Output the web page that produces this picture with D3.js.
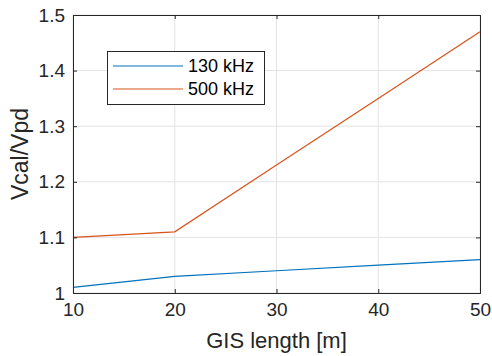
<!DOCTYPE html>
<html>
<head>
<meta charset="utf-8">
<script src="https://cdn.jsdelivr.net/npm/d3@7"></script>
<style>
  body { margin: 0; background: #fff; }
  svg { display: block; font-family: "Liberation Sans", Arial, sans-serif; }
</style>
</head>
<body>
<svg width="492" height="356"></svg>
<script>
const lengths = [10, 20, 30, 40, 50];
const v130 = [1.01, 1.03, 1.04, 1.05, 1.06];
const v500 = [1.10, 1.11, 1.23, 1.35, 1.47];
const seriesNames = ['130 kHz', '500 kHz'];
const seriesColors = ['#0072BD', '#D95319'];
const xTicks = [10, 20, 30, 40, 50];
const yTicks = [1, 1.1, 1.2, 1.3, 1.4, 1.5];

const svg = d3.select('svg');
const m = { left: 73, right: 480, top: 15, bottom: 293 };
const axisColor = '#262626';

const x = d3.scaleLinear().domain([10, 50]).range([m.left, m.right]);
const y = d3.scaleLinear().domain([1, 1.5]).range([m.bottom, m.top]);

// grid
svg.append('g').selectAll('line').data(xTicks).join('line')
  .attr('x1', d => x(d)).attr('x2', d => x(d))
  .attr('y1', m.top).attr('y2', m.bottom)
  .attr('stroke', '#e3e3e3').attr('stroke-width', 1);
svg.append('g').selectAll('line').data(yTicks).join('line')
  .attr('x1', m.left).attr('x2', m.right)
  .attr('y1', d => y(d)).attr('y2', d => y(d))
  .attr('stroke', '#e3e3e3').attr('stroke-width', 1);

// lines
const line = d3.line()
  .x((d, i) => x(lengths[i]))
  .y(d => y(d));
[v130, v500].forEach((s, i) => {
  svg.append('path')
    .attr('d', line(s))
    .attr('fill', 'none')
    .attr('stroke', seriesColors[i])
    .attr('stroke-width', 1.2);
});

// axes (ticks inward, box on)
const tk = 4;
const bottomAxis = d3.axisBottom(x).tickValues(xTicks).tickSize(-tk).tickPadding(10).tickFormat(d3.format('d'));
const topAxis = d3.axisTop(x).tickValues(xTicks).tickSize(-tk).tickFormat('');
const leftAxis = d3.axisLeft(y).tickValues(yTicks).tickSize(-tk).tickPadding(8).tickFormat(d => d === 1 ? '1' : d3.format('.1f')(d));
const rightAxis = d3.axisRight(y).tickValues(yTicks).tickSize(-tk).tickFormat('');

function style(g) {
  g.select('.domain').attr('stroke', axisColor).attr('stroke-width', 1);
  g.selectAll('.tick line').attr('stroke', axisColor);
  g.selectAll('.tick text').attr('fill', axisColor)
    .style('font-size', '19px').style('font-family', '"Liberation Sans", Arial, sans-serif');
}
svg.append('g').attr('transform', `translate(0,${m.bottom})`).call(bottomAxis).call(style);
svg.append('g').attr('transform', `translate(0,${m.top})`).call(topAxis).call(style);
svg.append('g').attr('transform', `translate(${m.left},0)`).call(leftAxis).call(style);
svg.append('g').attr('transform', `translate(${m.right},0)`).call(rightAxis).call(style);

// axis labels
svg.append('text')
  .attr('x', (m.left + m.right) / 2).attr('y', 348)
  .attr('text-anchor', 'middle').attr('fill', axisColor)
  .style('font-size', '22px')
  .text('GIS length [m]');
svg.append('text')
  .attr('transform', `translate(28,${(m.top + m.bottom) / 2}) rotate(-90)`)
  .attr('text-anchor', 'middle').attr('fill', axisColor)
  .style('font-size', '23px')
  .text('Vcal/Vpd');

// legend
const lg = svg.append('g');
lg.append('rect')
  .attr('x', 107.5).attr('y', 51.5).attr('width', 157).attr('height', 53)
  .attr('fill', '#fff').attr('stroke', axisColor).attr('stroke-width', 1);
seriesNames.forEach((name, i) => {
  const ly = 66 + i * 23;
  lg.append('line')
    .attr('x1', 113).attr('x2', 183).attr('y1', ly).attr('y2', ly)
    .attr('stroke', seriesColors[i]).attr('stroke-width', 1.2);
  lg.append('text')
    .attr('x', 188).attr('y', ly + 6)
    .attr('fill', '#000').style('font-size', '18px')
    .text(name);
});
</script>
</body>
</html>
